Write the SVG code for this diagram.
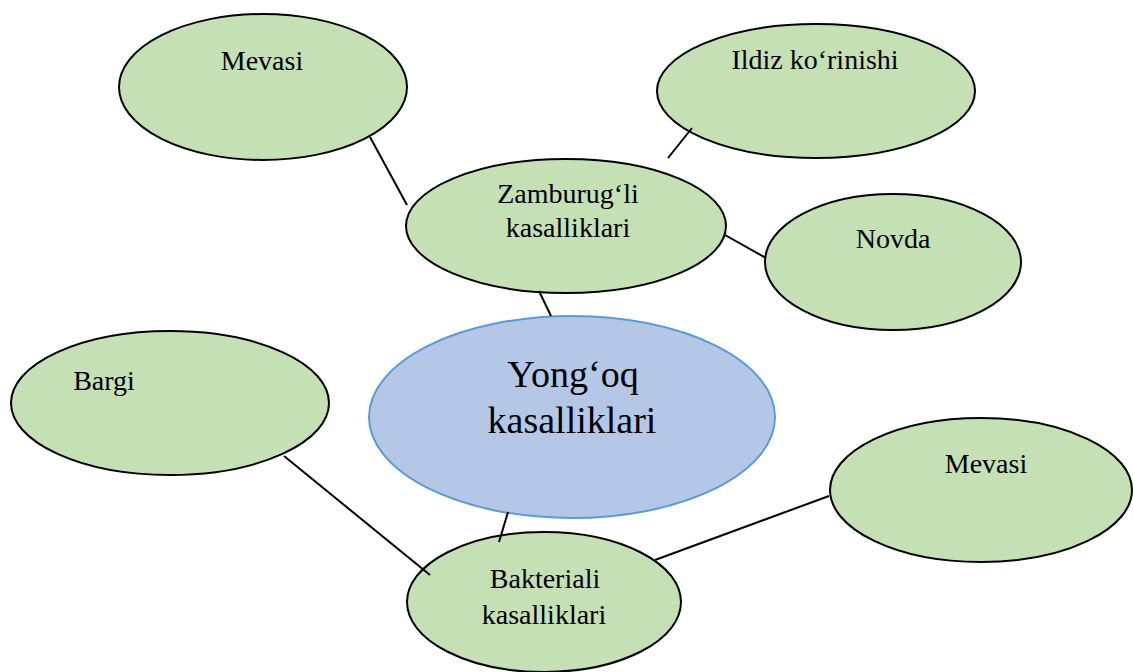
<svg xmlns="http://www.w3.org/2000/svg" width="1133" height="672" viewBox="0 0 1133 672">
<style>
.g{fill:#C5E0B4;stroke:#000;stroke-width:2}
.b{fill:#B4C7E7;stroke:#5B9BD5;stroke-width:2}
text{font-family:'Liberation Serif',serif;fill:#000;text-anchor:middle}
.t{font-size:28px}
.tb{font-size:38px}
.c{stroke:#000;stroke-width:2;fill:none}
</style>
<rect width="1133" height="672" fill="#fff"/>
<g id="n-mevasi-top"><ellipse class="g" cx="263" cy="87" rx="144" ry="73"/><text class="t" x="262" y="70" style="font-family:'Liberation Serif',serif">Mevasi</text></g>
<g id="n-ildiz"><ellipse class="g" cx="816" cy="91" rx="159" ry="67"/><text class="t" x="815" y="69" style="font-family:'Liberation Serif',serif">Ildiz ko‘rinishi</text></g>
<g id="n-novda"><ellipse class="g" cx="893" cy="262" rx="128" ry="68"/><text class="t" x="893" y="248" style="font-family:'Liberation Serif',serif">Novda</text></g>
<g id="n-bargi"><ellipse class="g" cx="170" cy="403" rx="159" ry="72"/><text class="t" x="104" y="390" style="font-family:'Liberation Serif',serif">Bargi</text></g>
<g id="n-mevasi-right"><ellipse class="g" cx="981" cy="490" rx="151" ry="72"/><text class="t" x="986" y="473" style="font-family:'Liberation Serif',serif">Mevasi</text></g>
<g id="n-zamburug"><ellipse class="g" cx="566" cy="226" rx="160" ry="67"/><text class="t" x="568" y="203" style="font-family:'Liberation Serif',serif">Zamburug‘li</text><text class="t" x="568" y="237" style="font-family:'Liberation Serif',serif">kasalliklari</text></g>
<g id="n-center"><ellipse class="b" cx="572" cy="417" rx="203" ry="101"/><text class="tb" x="573" y="387" style="font-family:'Liberation Serif',serif">Yong‘oq</text><text class="tb" x="572" y="433" style="font-family:'Liberation Serif',serif">kasalliklari</text></g>
<g id="n-bakteriali"><ellipse class="g" cx="544" cy="602" rx="137" ry="70"/><text class="t" x="545" y="588" style="font-family:'Liberation Serif',serif">Bakteriali</text><text class="t" x="544" y="624" style="font-family:'Liberation Serif',serif">kasalliklari</text></g>
<g id="connectors">
<line class="c" x1="370" y1="137" x2="407" y2="205"/>
<line class="c" x1="668" y1="158" x2="692" y2="128"/>
<line class="c" x1="725" y1="235" x2="766" y2="258"/>
<line class="c" x1="539" y1="291" x2="551" y2="316"/>
<line class="c" x1="284" y1="456" x2="430" y2="575"/>
<line class="c" x1="508" y1="512" x2="499" y2="542"/>
<line class="c" x1="655" y1="560" x2="829" y2="496"/>
</g>
</svg>
